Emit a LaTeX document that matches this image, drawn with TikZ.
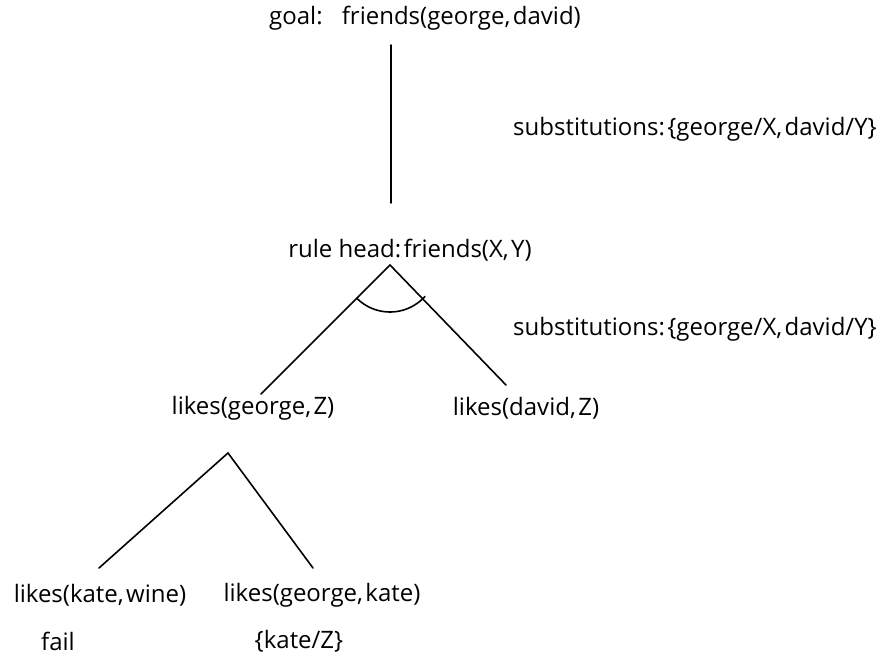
\documentclass[tikz,border=0pt]{standalone}
\usepackage{fontspec}
\setmainfont{Open Sans}
\begin{document}
\begin{tikzpicture}[x=1pt,y=-1pt,
  lbl/.style={inner sep=0pt,font=\fontsize{24}{28}\selectfont},
  edge/.style={line width=1.6pt,line cap=round}]
\useasboundingbox[fill=white] (0,0) rectangle (886,660);
\node[lbl] (goal) at (425,18) {goal:\hspace{0.8em}friends(george,\hspace{0.1em}david)};
\node[lbl] (sub1) at (695,129) {substitutions:\hspace{0.1em}\{george/X,\hspace{0.1em}david/Y\}};
\node[lbl] (rule) at (410,250) {rule head:\hspace{0.1em}friends(X,\hspace{0.1em}Y)};
\node[lbl] (sub2) at (695,329) {substitutions:\hspace{0.1em}\{george/X,\hspace{0.1em}david/Y\}};
\node[lbl] (lg) at (253,408) {likes(george,\hspace{0.1em}Z)};
\node[lbl] (ld) at (526,408) {likes(david,\hspace{0.1em}Z)};
\node[lbl] (lkw) at (100,595) {likes(kate,\hspace{0.1em}wine)};
\node[lbl] (lgk) at (322,595) {likes(george,\hspace{0.1em}kate)};
\node[lbl] (fail) at (58,641) {fail};
\node[lbl] (kz) at (299,641) {\{kate/Z\}};
\coordinate (v1) at (391,45);
\coordinate (v2) at (391,203);
\coordinate (a1) at (390,265);
\coordinate (a1l) at (261,394);
\coordinate (a1r) at (506,385);
\coordinate (a2) at (228,453);
\coordinate (a2l) at (99,568);
\coordinate (a2r) at (313,568);
\draw[edge] (v1) -- (v2);
\draw[edge] (a1l) -- (a1) -- (a1r);
\draw[edge] (a2l) -- (a2) -- (a2r);
\draw[edge] ([shift={(135:47)}]a1) arc[start angle=135,end angle=42,radius=47];
\end{tikzpicture}
\end{document}
